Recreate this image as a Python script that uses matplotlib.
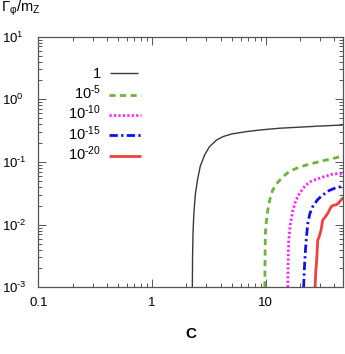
import matplotlib
matplotlib.use("Agg")
import matplotlib.pyplot as plt
from matplotlib.ticker import FixedLocator, FuncFormatter, LogLocator, NullFormatter

plt.rcParams['font.family'] = ['Liberation Sans', 'DejaVu Sans']
plt.rcParams['mathtext.fontset'] = 'custom'
plt.rcParams['mathtext.rm'] = 'Liberation Sans'
plt.rcParams['mathtext.it'] = 'Liberation Sans:italic'
plt.rcParams['mathtext.bf'] = 'Liberation Sans:bold'
plt.rcParams['axes.unicode_minus'] = False

# ---- data ----
labels = ['1', r'$\mathdefault{10^{\text{-}5}}$', r'$\mathdefault{10^{\text{-}10}}$',
          r'$\mathdefault{10^{\text{-}15}}$', r'$\mathdefault{10^{\text{-}20}}$']

x_1 = [2.26, 2.27, 2.29, 2.33, 2.4, 2.5, 2.65, 2.9, 3.2, 3.7, 4.2, 5.0, 6.7, 9.0, 13.2, 20, 30, 48]
y_1 = [0.001, 0.003, 0.0072, 0.015, 0.03, 0.05, 0.085, 0.13, 0.176, 0.225, 0.254, 0.28, 0.305,
       0.325, 0.346, 0.36, 0.375, 0.39]

x_5 = [9.8, 9.85, 9.9, 10.1, 10.4, 10.9, 11.5, 12.7, 14.1, 16, 18.5, 22, 25.8, 32, 40, 48]
y_5 = [0.001, 0.003, 0.0072, 0.011, 0.017, 0.026, 0.0356, 0.047, 0.058, 0.07, 0.079, 0.088,
       0.095, 0.105, 0.115, 0.125]

x_10 = [15.6, 15.7, 15.9, 16.4, 17.3, 18.3, 19.8, 21.8, 24.2, 27, 29.6, 33, 38.7, 43, 48]
y_10 = [0.001, 0.0025, 0.0056, 0.01, 0.017, 0.024, 0.0316, 0.04, 0.048, 0.052, 0.055, 0.059,
        0.064, 0.065, 0.063]

x_15 = [21.5, 21.8, 22.3, 22.8, 23.4, 24.4, 25.8, 28.5, 31.6, 36, 41.5, 48]
y_15 = [0.001, 0.0019, 0.0039, 0.0065, 0.0105, 0.015, 0.0193, 0.025, 0.0297, 0.035, 0.039, 0.041]

x_20 = [27.1, 27.5, 28, 28.6, 29.5, 30.6, 31.6, 33, 35, 37.5, 39.5, 41.5, 43.5, 45.8, 48]
y_20 = [0.001, 0.0018, 0.0027, 0.0056, 0.0065, 0.0082, 0.0118, 0.013, 0.0151, 0.0193, 0.0205,
        0.0207, 0.022, 0.0247, 0.027]

xticks = [0.1, 1, 10]
xtick_labels = ['0.1', '1', '10']
yticks = [1e-3, 1e-2, 1e-1, 1, 10]
ytick_exps = [-3, -2, -1, 0, 1]


def ylab(v, p):
    for t, e in zip(yticks, ytick_exps):
        if abs(v / t - 1) < 1e-6:
            s = r'\text{-}%d' % (-e) if e < 0 else '%d' % e
            return r'$\mathdefault{10^{%s}}$' % s
    return ''


# ---- styles ----
styles = [
    dict(color='#3a3a3a', lw=1.0, ls='-'),
    dict(color='#6cb33a', lw=2.0, ls=(0, (2.2, 1.6))),
    dict(color='#ff20ff', lw=2.0, ls=(0, (0.8, 0.8))),
    dict(color='#1010ee', lw=2.0, ls=(0, (3.0, 1.2, 0.8, 1.2))),
    dict(color='#ee4040', lw=2.0, ls='-'),
]
series = [(x_1, y_1), (x_5, y_5), (x_10, y_10), (x_15, y_15), (x_20, y_20)]

fig = plt.figure(figsize=(3.45, 3.54), dpi=100)
ax = fig.add_axes([38.3 / 345, 1 - 287.3 / 354, (343.3 - 38.3) / 345, (287.3 - 36.7) / 354])

for (xs, ys), st in zip(series, styles):
    ax.plot(xs, ys, **st, solid_capstyle='butt', dash_capstyle='butt')

ax.set_xscale('log')
ax.set_yscale('log')
ax.set_xlim(0.1, 48)
ax.set_ylim(1e-3, 10)

ax.xaxis.set_major_locator(FixedLocator(xticks))
ax.xaxis.set_major_formatter(FuncFormatter(lambda v, p: xtick_labels[xticks.index(v)] if v in xticks else ''))
ax.xaxis.set_minor_locator(LogLocator(base=10, subs=range(2, 10)))
ax.xaxis.set_minor_formatter(NullFormatter())
ax.yaxis.set_major_locator(FixedLocator(yticks))
ax.yaxis.set_major_formatter(FuncFormatter(ylab))
ax.yaxis.set_minor_locator(LogLocator(base=10, subs=range(2, 10)))
ax.yaxis.set_minor_formatter(NullFormatter())

spine_c = '#555555'
for s in ax.spines.values():
    s.set_color(spine_c)
    s.set_linewidth(0.9)
ax.tick_params(which='both', direction='in', top=True, right=True, color=spine_c, width=0.7)
ax.tick_params(which='major', length=6)
ax.tick_params(which='minor', length=3)
ax.tick_params(axis='y', which='major', labelsize=9.5, pad=26)
ax.tick_params(axis='x', which='major', labelsize=9.5, pad=7)

ax.set_xlabel('C', fontsize=11, fontweight='bold', labelpad=13)
fig.text(1 / 345, 1 - 12 / 354, r'Γ$_{\mathdefault{φ}}$/m$_{\mathdefault{Z}}$', fontsize=10.5,
         ha='left', va='baseline')

# ---- manual legend (labels right-aligned, sample line on the right) ----
leg_rows = [73.3, 94.7, 114.8, 135.3, 155.7]
for (lab, st, yy) in zip(labels, styles, leg_rows):
    yf = 1 - yy / 354
    x0, x1 = (110 / 345, 137.5 / 345) if lab == '1' else (109 / 345, 141 / 345)
    fig.add_artist(plt.Line2D([x0, x1], [yf, yf], transform=fig.transFigure, **st,
                              solid_capstyle='butt', dash_capstyle='butt'))
    fig.text(101 / 345, yf - 4.5 / 354, lab, fontsize=10.5, ha='right', va='baseline')

fig.canvas.draw()
for lab in ax.get_yticklabels():
    lab.set_horizontalalignment('left')

fig.savefig('out.png', dpi=100)
